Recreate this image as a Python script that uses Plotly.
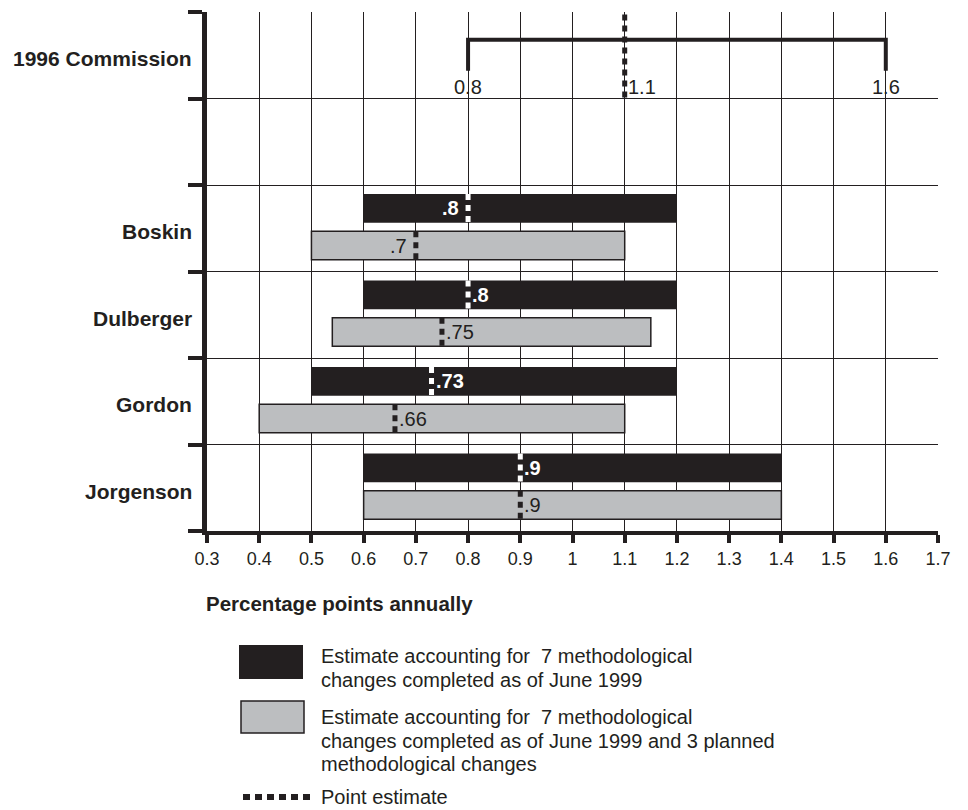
import plotly.graph_objects as go

# ---------------- data ----------------
categories = ["Jorgenson", "Gordon", "Dulberger", "Boskin"]

completed_low = [0.6, 0.5, 0.6, 0.6]
completed_high = [1.4, 1.2, 1.2, 1.2]
completed_point = [0.9, 0.73, 0.8, 0.8]
completed_text = [".9", ".73", ".8", ".8"]

planned_low = [0.6, 0.4, 0.54, 0.5]
planned_high = [1.4, 1.1, 1.15, 1.1]
planned_point = [0.9, 0.66, 0.75, 0.7]
planned_text = [".9", ".66", ".75", ".7"]

commission_label = "1996 Commission"
commission_low = 0.8
commission_point = 1.1
commission_high = 1.6
commission_texts = ["0.8", "1.1", "1.6"]

x_ticks = [0.3, 0.4, 0.5, 0.6, 0.7, 0.8, 0.9, 1.0, 1.1, 1.2, 1.3, 1.4, 1.5, 1.6, 1.7]
x_tick_labels = ["0.3", "0.4", "0.5", "0.6", "0.7", "0.8", "0.9", "1",
                 "1.1", "1.2", "1.3", "1.4", "1.5", "1.6", "1.7"]
x_title = "Percentage points annually"

legend_completed = ["Estimate accounting for  7 methodological",
                    "changes completed as of June 1999"]
legend_planned = ["Estimate accounting for  7 methodological",
                  "changes completed as of June 1999 and 3 planned",
                  "methodological changes"]
legend_point = "Point estimate"

# ---------------- style ----------------
INK = "#231f20"
GRAY = "#bcbec0"
FONT = "Liberation Sans, Arial, Helvetica, sans-serif"
label_side = ["right", "right", "right", "left"]

W, H = 968, 810
L, R, T, B = 207, 30, 12, 279
PW, PH = W - L - R, H - T - B


def px(X):
    return (X - L) / PW


def py(Y):
    return (H - B - Y) / PH


BAR_W = 0.33
n = len(categories)
y_comp = [i + 0.73 for i in range(n)]
y_plan = [i + 0.30 for i in range(n)]

fig = go.Figure()

fig.add_trace(go.Bar(
    orientation="h", y=y_comp, base=completed_low,
    x=[h - l for l, h in zip(completed_low, completed_high)],
    width=BAR_W, marker=dict(color=INK, line=dict(color=INK, width=0)),
    showlegend=False, hoverinfo="skip"))
fig.add_trace(go.Bar(
    orientation="h", y=y_plan, base=planned_low,
    x=[h - l for l, h in zip(planned_low, planned_high)],
    width=BAR_W, marker=dict(color=GRAY, line=dict(color=INK, width=1.5)),
    showlegend=False, hoverinfo="skip"))


def dotted(points, centers, color):
    xs, ys = [], []
    for p, c in zip(points, centers):
        xs += [p, p, None]
        ys += [c + BAR_W / 2, c - BAR_W / 2, None]
    return go.Scatter(x=xs, y=ys, mode="lines",
                      line=dict(color=color, width=5, dash="6px,5px"),
                      showlegend=False, hoverinfo="skip")


fig.add_trace(dotted(completed_point, y_comp, "white"))
fig.add_trace(dotted(planned_point, y_plan, INK))

# 1996 Commission bracket
fig.add_trace(go.Scatter(
    x=[commission_low, commission_low, commission_high, commission_high],
    y=[5.32, 5.68, 5.68, 5.32], mode="lines",
    line=dict(color=INK, width=4), showlegend=False, hoverinfo="skip"))
fig.add_trace(go.Scatter(
    x=[commission_point, commission_point], y=[5.97, 5.0], mode="lines",
    line=dict(color=INK, width=5, dash="6px,5px"),
    showlegend=False, hoverinfo="skip"))

ann = []
# bar labels
for i in range(n):
    side = label_side[i]
    ann.append(dict(x=completed_point[i], y=y_comp[i], xref="x", yref="y",
                    text="<b>%s</b>" % completed_text[i], showarrow=False,
                    xanchor="left" if side == "right" else "right",
                    xshift=2 if side == "right" else -7,
                    font=dict(family=FONT, size=20, color="white")))
    ann.append(dict(x=planned_point[i], y=y_plan[i], xref="x", yref="y",
                    text=planned_text[i], showarrow=False,
                    xanchor="left" if side == "right" else "right",
                    xshift=2 if side == "right" else -7,
                    font=dict(family=FONT, size=20, color=INK)))
    ann.append(dict(x=px(192), y=i + 0.46, xref="paper", yref="y",
                    text="<b>%s</b>" % categories[i], showarrow=False,
                    xanchor="right", yanchor="middle", xshift=2,
                    font=dict(family=FONT, size=21, color=INK)))

ann.append(dict(x=px(192), y=5.46, xref="paper", yref="y",
                text="<b>%s</b>" % commission_label, showarrow=False,
                xanchor="right", yanchor="middle", xshift=2,
                font=dict(family=FONT, size=21, color=INK)))
for val, txt, anchor, sh in zip([commission_low, commission_point, commission_high],
                                commission_texts, ["center", "left", "center"], [0, 1, 0]):
    ann.append(dict(x=val, y=5.13, xref="x", yref="y", text=txt, showarrow=False,
                    xanchor=anchor, xshift=sh, yanchor="middle",
                    font=dict(family=FONT, size=20, color=INK)))

ann.append(dict(x=px(204), y=py(603), xref="paper", yref="paper",
                text="<b>%s</b>" % x_title, showarrow=False,
                xanchor="left", yanchor="middle",
                font=dict(family=FONT, size=20.5, color=INK)))

# legend
shapes = [
    dict(type="rect", xref="paper", yref="paper", x0=px(239), x1=px(303),
         y0=py(679), y1=py(645), fillcolor=INK, line=dict(width=0)),
    dict(type="rect", xref="paper", yref="paper", x0=px(241), x1=px(304),
         y0=py(733), y1=py(701), fillcolor=GRAY, line=dict(color=INK, width=1.5)),
    dict(type="line", xref="paper", yref="paper", x0=px(243), x1=px(310),
         y0=py(797), y1=py(797), line=dict(color=INK, width=6, dash="7px,5px")),
]
for txt, Y in zip(legend_completed, [656, 680]):
    ann.append(dict(x=px(319), y=py(Y), xref="paper", yref="paper", text=txt,
                    showarrow=False, xanchor="left", yanchor="middle",
                    font=dict(family=FONT, size=20, color=INK)))
for txt, Y in zip(legend_planned, [717, 741, 764]):
    ann.append(dict(x=px(319), y=py(Y), xref="paper", yref="paper", text=txt,
                    showarrow=False, xanchor="left", yanchor="middle",
                    font=dict(family=FONT, size=20, color=INK)))
ann.append(dict(x=px(319), y=py(797), xref="paper", yref="paper", text=legend_point,
                showarrow=False, xanchor="left", yanchor="middle",
                font=dict(family=FONT, size=20, color=INK)))

fig.update_layout(
    width=W, height=H, margin=dict(l=L, r=R, t=T, b=B),
    paper_bgcolor="white", plot_bgcolor="white",
    barmode="overlay", showlegend=False,
    annotations=ann, shapes=shapes,
    font=dict(family=FONT, color=INK),
)
fig.update_xaxes(range=[0.3, 1.7], tickvals=x_ticks, ticktext=x_tick_labels,
                 showgrid=True, gridcolor=INK, gridwidth=1,
                 showline=True, linecolor=INK, linewidth=4,
                 ticks="outside", ticklen=8, tickwidth=4, tickcolor=INK,
                 tickfont=dict(family=FONT, size=18, color=INK),
                 zeroline=False, fixedrange=True)
fig.update_yaxes(range=[0, 6], tickvals=[0, 1, 2, 3, 4, 5, 6], showticklabels=False,
                 showgrid=True, gridcolor=INK, gridwidth=1,
                 showline=True, linecolor=INK, linewidth=5,
                 ticks="outside", ticklen=14, tickwidth=4, tickcolor=INK,
                 zeroline=False, fixedrange=True)

fig.write_html("out.html", config={"displayModeBar": False},
               post_script="document.body.style.margin='0';")
